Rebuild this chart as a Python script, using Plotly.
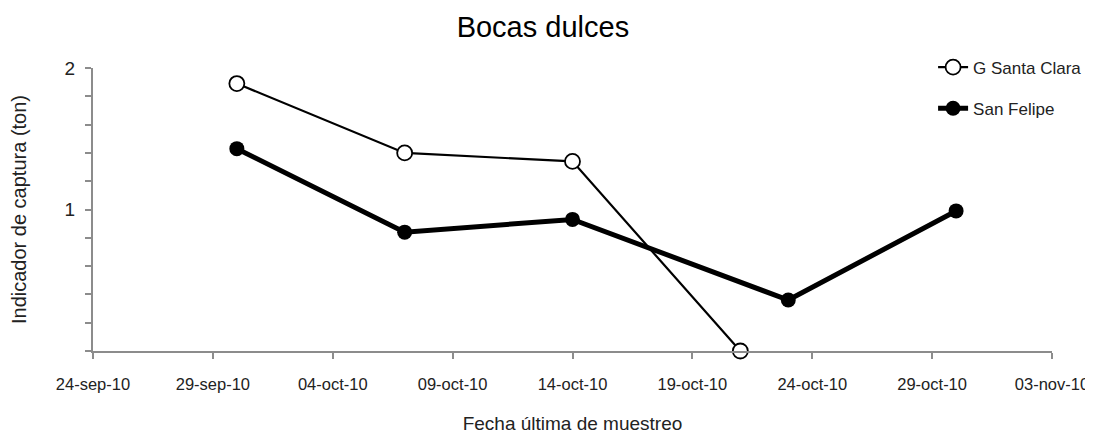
import plotly.graph_objects as go

# Data
dates_gsc = ["2010-09-30", "2010-10-07", "2010-10-14", "2010-10-21"]
vals_gsc = [1.89, 1.40, 1.34, 0.0]
dates_sf = ["2010-09-30", "2010-10-07", "2010-10-14", "2010-10-23", "2010-10-30"]
vals_sf = [1.43, 0.84, 0.93, 0.36, 0.99]
tick_dates = ["2010-09-24", "2010-09-29", "2010-10-04", "2010-10-09", "2010-10-14",
              "2010-10-19", "2010-10-24", "2010-10-29", "2010-11-03"]
tick_labels = ["24-sep-10", "29-sep-10", "04-oct-10", "09-oct-10", "14-oct-10",
               "19-oct-10", "24-oct-10", "29-oct-10", "03-nov-10"]
ytick_vals = [1, 2]
ytick_text = ["1", "2"]

FONT = "Liberation Sans, Arial, sans-serif"
TXT = "#222222"
AX = "#8c8c8c"

fig = go.Figure()
fig.add_trace(go.Scatter(
    x=dates_gsc, y=vals_gsc, name="G Santa Clara", mode="lines+markers",
    line=dict(color="black", width=2.2),
    marker=dict(symbol="circle", size=15, color="white", line=dict(color="black", width=1.8)),
    cliponaxis=False, legendgroup="a"))
fig.add_trace(go.Scatter(
    x=dates_sf, y=vals_sf, name="San Felipe", mode="lines+markers",
    line=dict(color="black", width=5),
    marker=dict(symbol="circle", size=15, color="black"),
    cliponaxis=False, legendgroup="b"))

fig.update_layout(
    width=1085, height=429,
    margin=dict(l=85, r=41, t=60, b=86, autoexpand=False),
    paper_bgcolor="white", plot_bgcolor="white",
    font=dict(family=FONT, color=TXT),
    title=dict(text="Bocas dulces", x=0.493, xanchor="center", y=0.955, yanchor="middle",
               font=dict(size=29, color="black")),
    showlegend=True,
    legend=dict(x=0.876, xanchor="left", y=1.065, yanchor="top",
                font=dict(size=17, color=TXT), tracegroupgap=16,
                bgcolor="rgba(0,0,0,0)", itemwidth=30),
    xaxis=dict(
        type="date", range=["2010-09-24", "2010-11-03"], automargin=False,
        tickmode="array", tickvals=tick_dates, ticktext=tick_labels,
        showgrid=False, zeroline=False,
        showline=True, linecolor=AX, linewidth=2,
        ticks="outside", ticklen=6, tickcolor=AX, tickwidth=1.5,
        ticklabelstandoff=11, ticklabeloverflow="allow",
        tickfont=dict(size=16.5, color=TXT),
        title=dict(text="Fecha última de muestreo", font=dict(size=19, color=TXT), standoff=25),
    ),
    yaxis=dict(
        range=[0, 2], automargin=False,
        tickmode="array", tickvals=ytick_vals, ticktext=ytick_text,
        showgrid=False, zeroline=False,
        showline=True, linecolor=AX, linewidth=2,
        ticks="outside", ticklen=6, tickcolor=AX, tickwidth=1.5,
        ticklabelstandoff=6,
        minor=dict(dtick=0.2, ticks="outside", ticklen=6, tickcolor=AX, tickwidth=1.5, showgrid=False),
        tickfont=dict(size=19, color=TXT),
        title=dict(text="Indicador de captura (ton)", font=dict(size=20, color=TXT), standoff=38),
    ),
)

fig.write_html("out.html")
